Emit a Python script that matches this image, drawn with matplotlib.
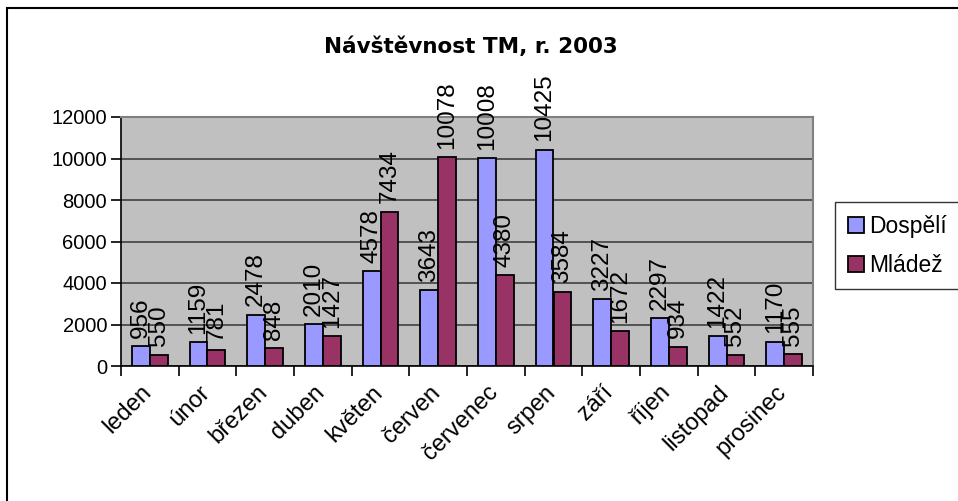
import numpy as np
import matplotlib.pyplot as plt
from matplotlib.patches import Rectangle
from matplotlib.transforms import ScaledTranslation

plt.rcParams['font.family'] = ['Liberation Sans', 'DejaVu Sans']

months = ["leden", "únor", "březen", "duben", "květen", "červen",
          "červenec", "srpen", "září", "říjen", "listopad", "prosinec"]
dospeli = [956, 1159, 2478, 2010, 4578, 3643, 10008, 10425, 3227, 2297, 1422, 1170]
mladez = [550, 781, 848, 1427, 7434, 10078, 4380, 3584, 1672, 934, 552, 555]

fig = plt.figure(figsize=(9.58, 5.01), dpi=100)
ax = fig.add_axes([121 / 958, 1 - 366 / 501, 692 / 958, 249 / 501])

# outer chart frame (left/top visible, right/bottom run off the picture)
fig.patches.append(Rectangle((7 / 958, -0.1), 1.2, 1.1 - 8 / 501, transform=fig.transFigure,
                             fill=False, edgecolor="black", linewidth=1.5, zorder=0))

x = np.arange(len(months))
w = 0.31
ax.set_facecolor("#C0C0C0")
ax.bar(x - w / 2, dospeli, w, color="#9999FF", edgecolor="black", linewidth=1.3, zorder=3, label="Dospělí")
ax.bar(x + w / 2, mladez, w, color="#993366", edgecolor="black", linewidth=1.3, zorder=3, label="Mládež")

for xi, v in zip(x - w / 2, dospeli):
    ax.text(xi, v + 400, str(v), rotation=90, ha="center", va="bottom", fontsize=17.5, zorder=4)
for xi, v in zip(x + w / 2, mladez):
    ax.text(xi, v + 400, str(v), rotation=90, ha="center", va="bottom", fontsize=17.5, zorder=4)

ax.set_xlim(-0.5, len(months) - 0.5)
ax.set_ylim(0, 12000)
ax.set_yticks(range(0, 12001, 2000))
ax.tick_params(axis="y", labelsize=14.5, length=7, width=1.2, direction="out", pad=3)
ax.yaxis.grid(True, color="#404040", linewidth=1.2, zorder=1)

ax.set_xticks(np.arange(-0.5, len(months), 1))
ax.set_xticklabels([])
ax.tick_params(axis="x", which="major", length=7, width=1.2, direction="out")
ax.set_xticks(x, minor=True)
ax.set_xticklabels(months, minor=True, rotation=45, ha="right", va="top",
                   rotation_mode="anchor", fontsize=17)
ax.tick_params(axis="x", which="minor", length=0, pad=11)
# month names sit a little left of the group centre in the original
shift = ScaledTranslation(-9 / 100, 0, fig.dpi_scale_trans)
for lab in ax.get_xticklabels(minor=True):
    lab.set_transform(lab.get_transform() + shift)

for s in ["top", "right"]:
    ax.spines[s].set_color("#808080")
    ax.spines[s].set_linewidth(1.5)
ax.spines["left"].set_linewidth(1.2)
ax.spines["bottom"].set_linewidth(1.2)

fig.text(471 / 958, 1 - 47 / 501, "Návštěvnost TM, r. 2003", ha="center", va="center",
         fontsize=15.5, fontweight="bold", family="DejaVu Sans")

leg = fig.legend(loc="upper left", bbox_to_anchor=(835 / 958, 1 - 202 / 501), fontsize=16.5,
                 frameon=True, fancybox=False, edgecolor="black", handlelength=0.7,
                 handleheight=0.7, handletextpad=0.25, borderpad=0.55, labelspacing=0.7,
                 borderaxespad=0)
leg.get_frame().set_linewidth(1.0)

fig.savefig("out.png", dpi=100)
